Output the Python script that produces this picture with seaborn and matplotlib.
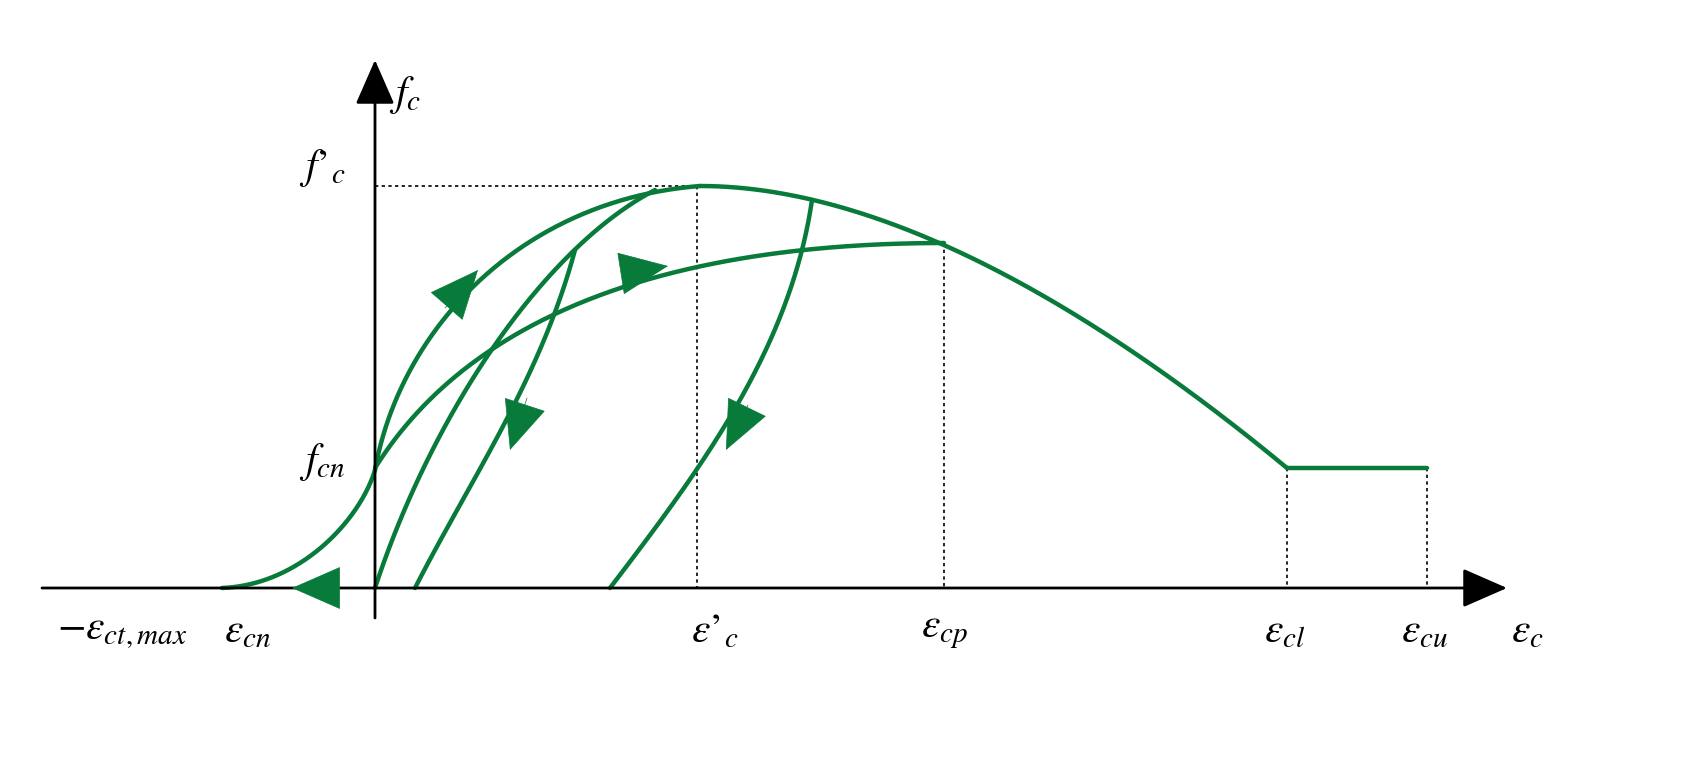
import numpy as np
import matplotlib
matplotlib.use("Agg")
import matplotlib.pyplot as plt
from matplotlib.patches import FancyArrowPatch
import seaborn as sns

sns.set_theme(style="white")
plt.rcParams['font.family'] = ['Liberation Serif', 'DejaVu Serif']
plt.rcParams['mathtext.fontset'] = 'stix'

# Schematic coordinates (pixels of reference, origin at axis crossing)
OX, OY = 375, 588
envelope_up = [(222, 588), (300, 585), (360, 520), (375, 470)]
envelope_up2 = [(375, 470), (400, 330), (520, 200), (700, 186)]
envelope_down = [(700, 186), (900, 186), (1120, 330), (1287, 468)]
residual = [(1287, 468), (1427, 468)]
reload2 = [(375, 468), (480, 300), (700, 243), (944, 243)]
reloadA = [(375, 588), (430, 420), (540, 250), (655, 190)]
unloadB = [(575, 250), (540, 380), (470, 480), (415, 588)]
unloadC = [(812, 200), (790, 350), (700, 470), (610, 588)]
arrows = [((445, 308), (478, 270)), ((630, 272), (668, 266)),
          ((527, 398), (510, 450)), ((748, 405), (726, 450)),
          ((340, 588), (292, 588))]
dotted = [[(375, 186), (697, 186)], [(697, 186), (697, 588)],
          [(944, 243), (944, 588)], [(1287, 468), (1287, 588)],
          [(1427, 468), (1427, 588)]]
labels = [("$f_c$", 405, 95), ("$f\u2019_c$", 322, 168), ("$f_{cn}$", 322, 462),
          ("$-\\varepsilon_{ct,max}$", 122, 632), ("$\\varepsilon_{cn}$", 248, 632),
          ("$\\varepsilon\u2019_c$", 715, 632), ("$\\varepsilon_{cp}$", 945, 632),
          ("$\\varepsilon_{cl}$", 1285, 632), ("$\\varepsilon_{cu}$", 1425, 632),
          ("$\\varepsilon_c$", 1527, 632)]

G = '#087a3a'

def tr(p):
    return (p[0] - OX, OY - p[1])

def bez(cp):
    t = np.linspace(0, 1, 200)[:, None]
    P = np.array([tr(p) for p in cp])
    return ((1-t)**3*P[0] + 3*(1-t)**2*t*P[1] + 3*(1-t)*t**2*P[2] + t**3*P[3])

fig = plt.figure(figsize=(16.89, 7.57), dpi=100)
ax = fig.add_axes([0, 0, 1, 1])
ax.set_xlim(-OX, 1689 - OX)
ax.set_ylim(OY - 757, OY)
ax.axis('off')

def arrow(s, e, color, scale, lw):
    ax.add_patch(FancyArrowPatch(tr(s), tr(e), arrowstyle='-|>,head_length=0.8,head_width=0.35',
                                 mutation_scale=scale, shrinkA=0, shrinkB=0,
                                 color=color, lw=lw, zorder=5))

# axes
arrow((42, 588), (1507, 588), 'black', 35, 2)
arrow((375, 618), (375, 60), 'black', 35, 2)

for seg in dotted:
    a, b = tr(seg[0]), tr(seg[1])
    ax.plot([a[0], b[0]], [a[1], b[1]], ls=(0, (2, 2)), color='black', lw=1.2)

for cp in [envelope_up, envelope_up2, envelope_down, reload2, reloadA, unloadB, unloadC]:
    pts = bez(cp)
    sns.lineplot(x=pts[:, 0], y=pts[:, 1], sort=False, color=G, lw=3.2, ax=ax)
a, b = tr(residual[0]), tr(residual[1])
sns.lineplot(x=[a[0], b[0]], y=[a[1], b[1]], color=G, lw=3.2, ax=ax)

for s, e in arrows:
    arrow(s, e, G, 42, 0.5)

for txt, x, y in labels:
    ax.text(*tr((x, y)), txt, fontsize=30, ha='center', va='center', color='black')

fig.savefig('out.png', dpi=100)
